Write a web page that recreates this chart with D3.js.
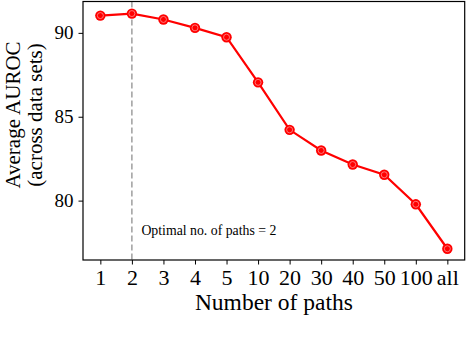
<!DOCTYPE html>
<html><head><meta charset="utf-8">
<script src="https://cdn.jsdelivr.net/npm/d3@7"></script>
<style>body{margin:0;background:#fff}svg{display:block}</style>
</head><body>
<script>
const categories = ["1","2","3","4","5","10","20","30","40","50","100","all"];
const values = [91.03, 91.15, 90.8, 90.3, 89.74, 87.05, 84.22, 82.99, 82.15, 81.54, 79.78, 77.13];
const yTicks = [80, 85, 90];
const optimalIndex = 1;

const W = 476, H = 340;
const m = {left: 83, right: 476 - 464.7, top: 1.5, bottom: 340 - 260};
const svg = d3.select("body").append("svg").attr("width", W).attr("height", H);
const font = "Liberation Serif, Times New Roman, serif";

const x = d3.scalePoint().domain(categories).range([m.left, W - m.right]).padding(0.55);
const y = d3.scaleLinear().domain([76.46, 91.87]).range([H - m.bottom, m.top]);

// dashed line
svg.append("line")
  .attr("x1", x(categories[optimalIndex])).attr("x2", x(categories[optimalIndex]))
  .attr("y1", m.top).attr("y2", H - m.bottom)
  .attr("stroke", "#909090").attr("stroke-width", 1.3).attr("stroke-dasharray", "6,3");

svg.append("text")
  .attr("x", x(categories[optimalIndex]) + 9.5).attr("y", 235)
  .attr("font-family", font).attr("font-size", 13.8).attr("fill", "#000")
  .text("Optimal no. of paths = " + categories[optimalIndex]);

// axes
const xAxis = svg.append("g").attr("transform", `translate(0,${H - m.bottom})`)
  .call(d3.axisBottom(x).tickSize(4.5).tickPadding(4.5));
const yAxis = svg.append("g").attr("transform", `translate(${m.left},0)`)
  .call(d3.axisLeft(y).tickValues(yTicks).tickSize(4.5).tickPadding(5));
[xAxis, yAxis].forEach(g => {
  g.select(".domain").remove();
  g.selectAll("line").attr("stroke", "#000").attr("stroke-width", 1);
  g.selectAll("text").attr("font-family", font).attr("fill", "#000");
});
xAxis.selectAll("text").attr("font-size", 22);
yAxis.selectAll("text").attr("font-size", 19);

// frame
svg.append("rect").attr("x", m.left).attr("y", m.top)
  .attr("width", W - m.right - m.left).attr("height", H - m.bottom - m.top)
  .attr("fill", "none").attr("stroke", "#000").attr("stroke-width", 1.2);

// line
svg.append("path").datum(values)
  .attr("d", d3.line().x((d, i) => x(categories[i])).y(d => y(d)))
  .attr("fill", "none").attr("stroke", "#ff0000").attr("stroke-width", 2.2);

const pts = svg.append("g").selectAll("g").data(values).join("g")
  .attr("transform", (d, i) => `translate(${x(categories[i])},${y(d)})`);
pts.append("circle").attr("r", 5.2).attr("fill", "#ff0000");
pts.append("circle").attr("r", 3).attr("fill", "none").attr("stroke", "#ff9090").attr("stroke-width", 0.8);

// labels
svg.append("text").attr("x", (m.left + W - m.right) / 2).attr("y", 310)
  .attr("text-anchor", "middle").attr("font-family", font).attr("font-size", 23.5)
  .attr("fill", "#000").text("Number of paths");

const cy = 115;
svg.append("text").attr("transform", `translate(20,${cy}) rotate(-90)`)
  .attr("text-anchor", "middle").attr("font-family", font).attr("font-size", 21)
  .attr("fill", "#000").text("Average AUROC");
svg.append("text").attr("transform", `translate(41.5,${cy}) rotate(-90)`)
  .attr("text-anchor", "middle").attr("font-family", font).attr("font-size", 21)
  .attr("fill", "#000").text("(across data sets)");
</script>
</body></html>
